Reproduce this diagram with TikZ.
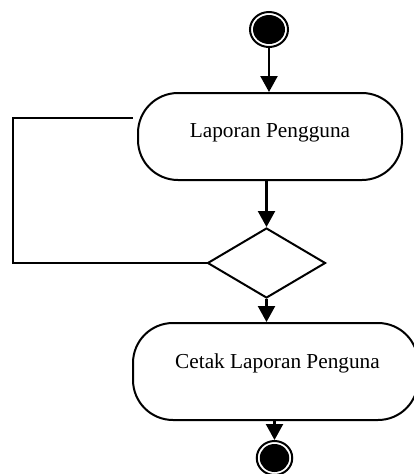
\documentclass[tikz,border=0pt]{standalone}
\usepackage{fontspec}
\setmainfont{Liberation Serif}
\usetikzlibrary{shapes.geometric,arrows.meta}
\begin{document}
\begin{tikzpicture}[x=1pt,y=-1pt,
  line width=2pt,
  flow/.style={line width=2.3pt,-{Triangle[length=16pt,width=17pt]}},
  activity/.style={draw,rectangle,rounded corners=40pt,inner sep=0pt},
  label/.style={anchor=base,inner sep=0pt,font=\fontsize{21.3}{25}\selectfont},
  ring/.style={ellipse,draw,fill=white,inner sep=0pt},
  dot/.style={ellipse,fill=black,inner sep=0pt},
  decision/.style={diamond,draw,inner sep=0pt,minimum width=118pt,minimum height=70pt}]
\useasboundingbox (0,0) rectangle (414,474);

% initial state
\node[ring,minimum width=38pt,minimum height=35pt] (start) at (269,29.5) {};
\node[dot,minimum width=32pt,minimum height=29pt] (startdot) at (start.center) {};

% first activity
\node[activity,minimum width=264pt,minimum height=87pt] (report) at (270,136.5) {};
\node[label] (reporttext) at (270,137) {Laporan Pengguna};

% decision
\node[decision] (dec) at (266.5,263) {};

% second activity
\node[activity,minimum width=285pt,minimum height=97pt] (print) at (275.5,371.5) {};
\node[label] (printtext) at (277.5,368) {Cetak Laporan Penguna};

% final state
\node[ring,minimum width=35.5pt,minimum height=34pt] (final) at (274.5,458) {};
\node[dot,minimum width=29.5pt,minimum height=28pt] (finaldot) at (final.center) {};

% control flow
\draw[flow] (start.south) -- (start.south |- report.north);
\draw[flow] (report.south -| dec.north) -- (dec.north);
\draw[flow] (dec.south) -- (dec.south |- print.north);
\draw[flow] (print.south -| final.north) -- (final.north);

% loop back from the decision
\coordinate (loopend) at (133,118);
\draw (dec.west) -- (13,263) |- (loopend);
\end{tikzpicture}
\end{document}
